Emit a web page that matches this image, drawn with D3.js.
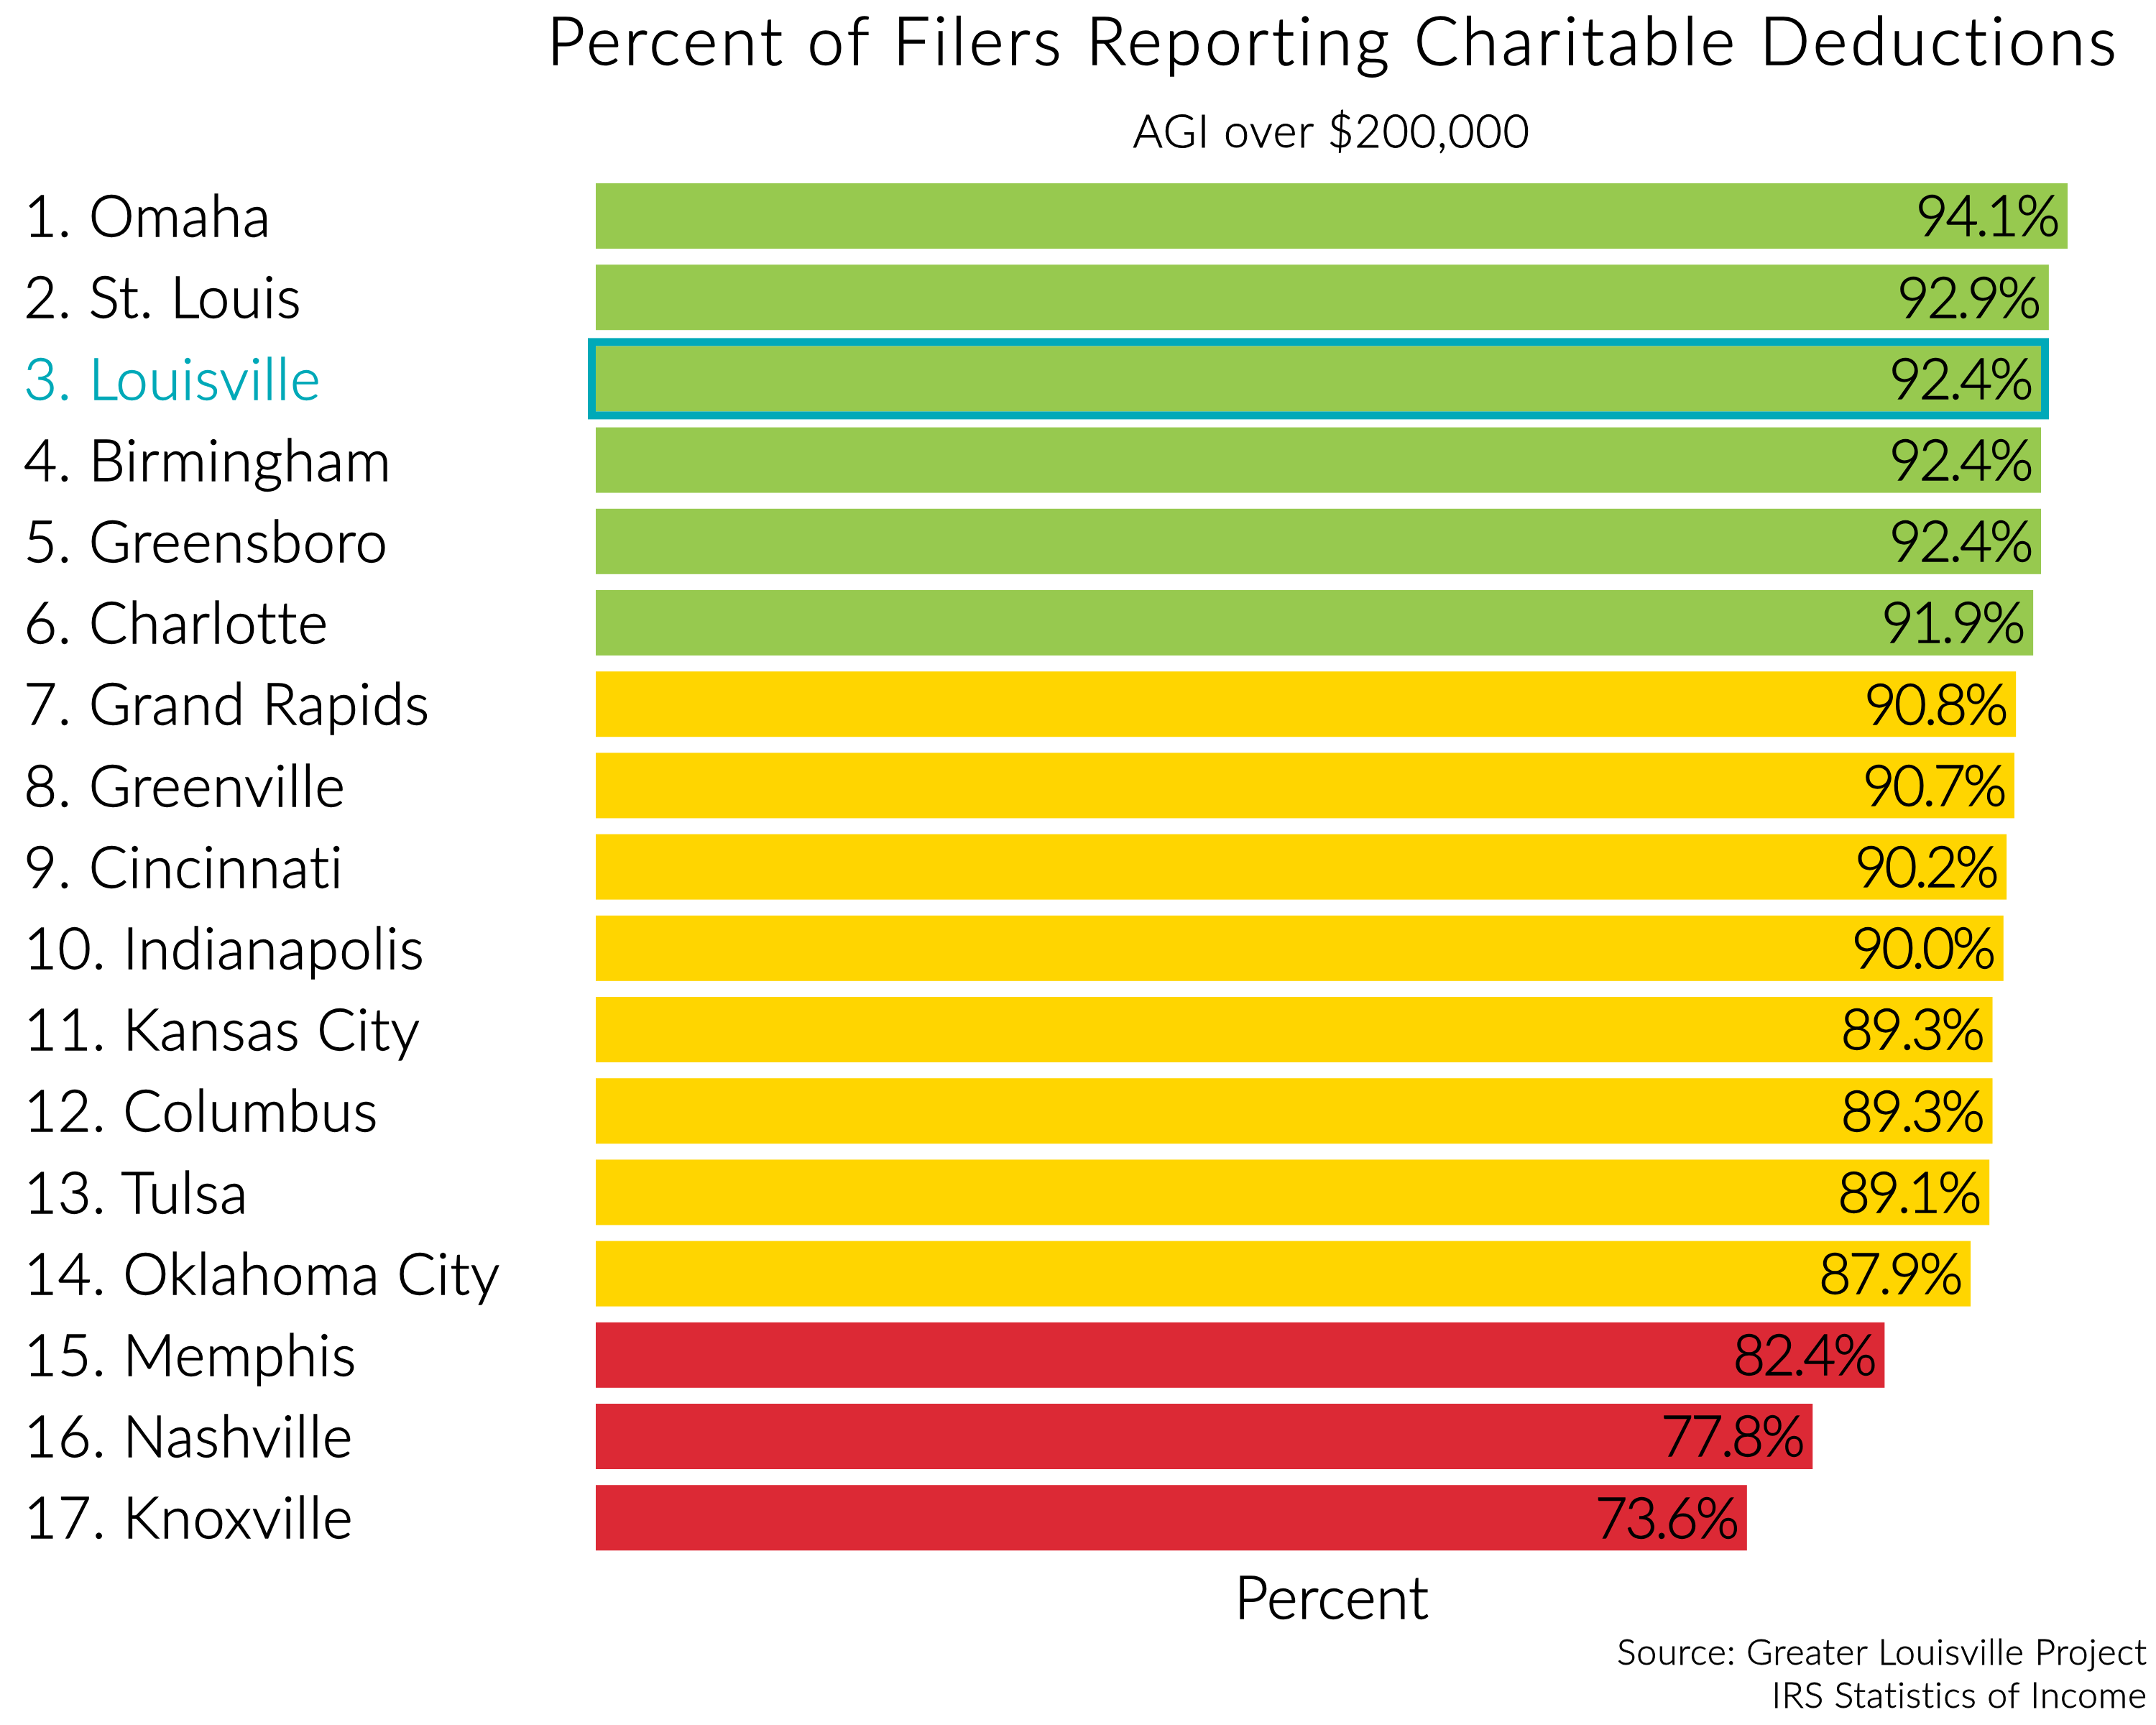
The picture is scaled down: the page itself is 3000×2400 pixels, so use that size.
<!DOCTYPE html>
<html>
<head>
<meta charset="utf-8">
<script src="https://cdn.jsdelivr.net/npm/d3@7"></script>
<style>
  html, body { margin: 0; padding: 0; background: #ffffff; }
  svg { display: block; }
  text { font-family: Lato, "Open Sans", sans-serif; font-weight: 300; font-variant-ligatures: none; font-feature-settings: "liga" 0, "clig" 0; }
</style>
</head>
<body>
<div id="chart"></div>
<script>
// ---- data ----
const cities = ["Omaha", "St. Louis", "Louisville", "Birmingham", "Greensboro", "Charlotte",
  "Grand Rapids", "Greenville", "Cincinnati", "Indianapolis", "Kansas City", "Columbus",
  "Tulsa", "Oklahoma City", "Memphis", "Nashville", "Knoxville"];
const values = [94.1, 92.9, 92.4, 92.4, 92.4, 91.9, 90.8, 90.7, 90.2, 90.0, 89.3, 89.3,
  89.1, 87.9, 82.4, 77.8, 73.6];
const tiers = ["top", "top", "top", "top", "top", "top",
  "mid", "mid", "mid", "mid", "mid", "mid", "mid", "mid",
  "low", "low", "low"];
const highlightCity = "Louisville";
const titleText = "Percent of Filers Reporting Charitable Deductions";
const subtitleText = "AGI over $200,000";
const axisTitle = "Percent";
const sourceLines = ["Source: Greater Louisville Project", "IRS Statistics of Income"];

// ---- styles ----
const tierColor = { top: "#97c94f", mid: "#ffd500", low: "#dc2935" };
const teal = "#00a9b8";
const ink = "#000000";
const W = 3000, H = 2400;

const rows = cities.map((c, i) => ({ city: c, label: (i + 1) + ". " + c, value: values[i], tier: tiers[i] }));

const svg = d3.select("#chart").append("svg")
  .attr("width", W).attr("height", H);

const x = d3.scaleLinear()
  .domain([0, d3.max(values)])
  .range([829, 2877]);

const step = 113.2;
const y = d3.scaleBand()
  .domain(rows.map(d => d.label))
  .range([255 - 0.098 * step, 255 - 0.098 * step + rows.length * step])
  .paddingInner(0.196)
  .paddingOuter(0.098);

const centerX = (x.range()[0] + x.range()[1]) / 2;

function ink_(sel, color, w) {
  return sel.attr("fill", color).attr("stroke", color).attr("stroke-width", w);
}

// title
ink_(svg.append("text")
  .attr("x", centerX).attr("y", 90)
  .attr("text-anchor", "middle")
  .attr("font-size", 92)
  .attr("textLength", 2184)
  .attr("lengthAdjust", "spacing")
  .text(titleText), ink, 1.5);

ink_(svg.append("text")
  .attr("x", centerX).attr("y", 205)
  .attr("text-anchor", "middle")
  .attr("font-size", 63)
  .attr("letter-spacing", 1.6)
  .text(subtitleText), ink, 1.0);

// bars
svg.append("g").selectAll("rect")
  .data(rows)
  .join("rect")
  .attr("x", x(0))
  .attr("y", d => y(d.label))
  .attr("width", d => x(d.value) - x(0))
  .attr("height", y.bandwidth())
  .attr("fill", d => tierColor[d.tier]);

// highlight outline
const hl = rows.filter(d => d.city === highlightCity);
svg.append("g").selectAll("rect")
  .data(hl)
  .join("rect")
  .attr("x", x(0) - 5.5)
  .attr("y", d => y(d.label) - 5.5)
  .attr("width", d => x(d.value) - x(0) + 11)
  .attr("height", y.bandwidth() + 11)
  .attr("fill", "none")
  .attr("stroke", teal)
  .attr("stroke-width", 11);

// category labels (y axis)
const labelSize = 80;
const yAxis = d3.axisLeft(y).tickSize(0).tickPadding(0);
const gy = svg.append("g").attr("transform", "translate(33,0)").call(yAxis);
gy.select(".domain").remove();
gy.selectAll(".tick text")
  .attr("text-anchor", "start")
  .attr("x", 0)
  .attr("dy", null)
  .attr("y", labelSize * 0.358)
  .attr("font-size", labelSize)
  .attr("letter-spacing", 1.2)
  .attr("font-family", "Lato, 'Open Sans', sans-serif")
  .attr("fill", d => d.indexOf(highlightCity) >= 0 ? teal : ink)
  .attr("stroke", d => d.indexOf(highlightCity) >= 0 ? teal : ink)
  .attr("stroke-width", 1.3);

// value labels
const valSize = 78;
ink_(svg.append("g").selectAll("text")
  .data(rows)
  .join("text")
  .attr("x", d => x(d.value) - 14)
  .attr("y", d => y(d.label) + y.bandwidth() / 2 + valSize * 0.358)
  .attr("text-anchor", "end")
  .attr("font-size", valSize)
  .attr("letter-spacing", -3.5)
  .text(d => d3.format(".1f")(d.value) + "%"), ink, 1.3);

// axis title
ink_(svg.append("text")
  .attr("x", centerX).attr("y", 2252)
  .attr("text-anchor", "middle")
  .attr("font-size", 82)
  .attr("letter-spacing", 0.5)
  .text(axisTitle), ink, 1.3);

// source
ink_(svg.append("g").selectAll("text")
  .data(sourceLines)
  .join("text")
  .attr("x", 2988)
  .attr("y", (d, i) => 2316 + i * 60)
  .attr("text-anchor", "end")
  .attr("font-size", 50)
  .attr("letter-spacing", 0.9)
  .text(d => d), ink, 0.8);
</script>
</body>
</html>
